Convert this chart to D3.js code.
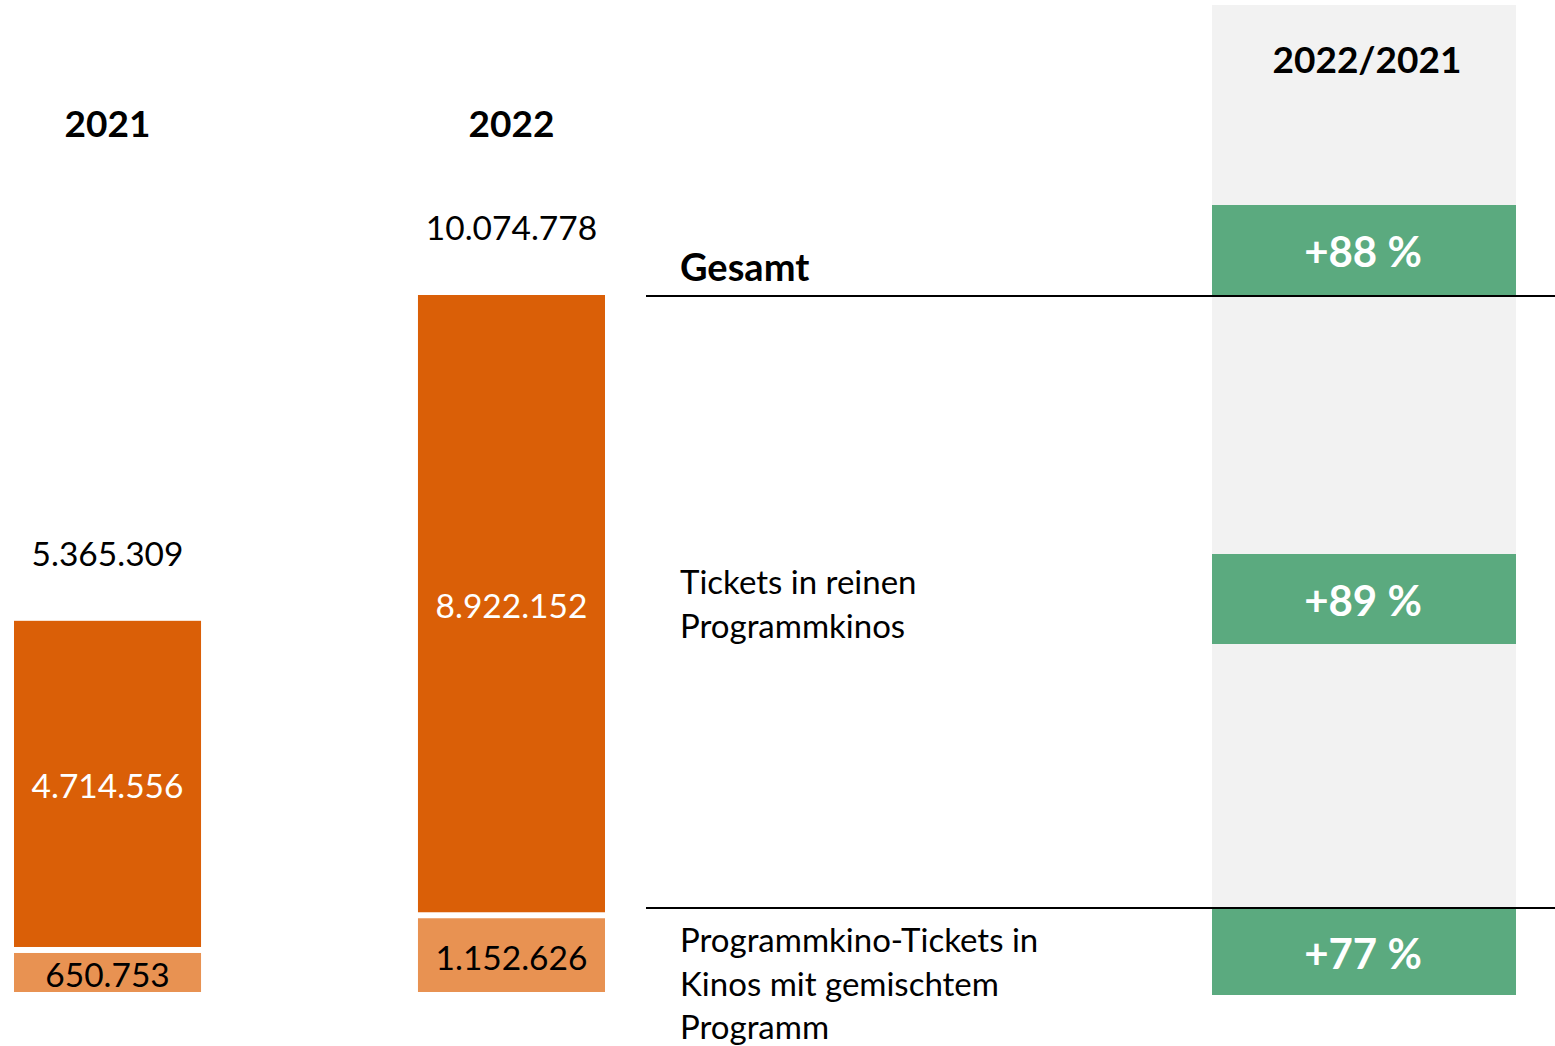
<!DOCTYPE html>
<html>
<head>
<meta charset="utf-8">
<script src="https://cdn.jsdelivr.net/npm/d3@7"></script>
<style>
  body { margin: 0; background: #fff; }
  svg text { font-family: Lato, "Noto Sans", sans-serif; }
</style>
</head>
<body>
<div id="chart"></div>
<script>
// data
const years = ["2021", "2022"];
const mixedTickets = [650753, 1152626];   // Programmkino-Tickets in Kinos mit gemischtem Programm
const pureTickets = [4714556, 8922152];   // Tickets in reinen Programmkinos
const rowLabels = [
    ["Gesamt"],
    ["Tickets in reinen", "Programmkinos"],
    ["Programmkino-Tickets in", "Kinos mit gemischtem", "Programm"]
];
const changes = ["+88 %", "+89 %", "+77 %"];
const changeHeader = "2022/2021";

const width = 1555, height = 1046;
const fmt = d3.formatLocale({decimal: ",", thousands: ".", grouping: [3], currency: ["", "€"]}).format(",d");

const svg = d3.select("#chart")
    .append("svg")
    .attr("width", width)
    .attr("height", height);

const totals = years.map((d, i) => pureTickets[i] + mixedTickets[i]);

const x = d3.scaleBand()
    .domain(years)
    .range([14, 605])
    .paddingInner(0.537);

const y = d3.scaleLinear()
    .domain([0, d3.max(totals)])
    .range([992, 295]);

// grey comparison column
svg.append("rect")
    .attr("x", 1212).attr("y", 5)
    .attr("width", 304).attr("height", 990)
    .attr("fill", "#f2f2f2");

const gap = 6;
const bars = svg.selectAll(".bar")
    .data(years)
    .join("g")
    .attr("class", "bar");

// lower segment
bars.append("rect")
    .attr("x", d => x(d))
    .attr("width", x.bandwidth())
    .attr("y", (d, i) => y(mixedTickets[i]) + gap)
    .attr("height", (d, i) => y(0) - y(mixedTickets[i]) - gap)
    .attr("fill", "#e89252");

// upper segment
bars.append("rect")
    .attr("x", d => x(d))
    .attr("width", x.bandwidth())
    .attr("y", (d, i) => y(totals[i]))
    .attr("height", (d, i) => y(mixedTickets[i]) - y(totals[i]))
    .attr("fill", "#da5f07");

bars.append("text")
    .attr("x", d => x(d) + x.bandwidth() / 2)
    .attr("y", (d, i) => (y(mixedTickets[i]) + gap + y(0)) / 2 + 15)
    .attr("text-anchor", "middle")
    .attr("font-size", 33.5)
    .attr("fill", "#000")
    .text((d, i) => fmt(mixedTickets[i]));

bars.append("text")
    .attr("x", d => x(d) + x.bandwidth() / 2)
    .attr("y", (d, i) => (y(totals[i]) + y(mixedTickets[i])) / 2 + 14)
    .attr("text-anchor", "middle")
    .attr("font-size", 33.5)
    .attr("fill", "#fff")
    .text((d, i) => fmt(pureTickets[i]));

// totals above bars
bars.append("text")
    .attr("x", d => x(d) + x.bandwidth() / 2)
    .attr("y", (d, i) => y(totals[i]) - 55)
    .attr("text-anchor", "middle")
    .attr("font-size", 33.5)
    .attr("fill", "#000")
    .text((d, i) => fmt(totals[i]));

// year headers
bars.append("text")
    .attr("x", d => x(d) + x.bandwidth() / 2)
    .attr("y", 137)
    .attr("text-anchor", "middle")
    .attr("font-size", 37)
    .attr("font-weight", "bold")
    .text(d => d);

// separator lines
[296, 908].forEach(ly => {
    svg.append("line")
        .attr("x1", 646).attr("x2", width)
        .attr("y1", ly).attr("y2", ly)
        .attr("stroke", "#000").attr("stroke-width", 2);
});

svg.append("text")
    .attr("x", 1367).attr("y", 73)
    .attr("text-anchor", "middle")
    .attr("font-size", 37)
    .attr("font-weight", "bold")
    .text(changeHeader);

// change boxes
const boxTop = [205, 554, 909];
const boxH = [90, 90, 86];
changes.forEach((c, i) => {
    svg.append("rect")
        .attr("x", 1212).attr("y", boxTop[i])
        .attr("width", 304).attr("height", boxH[i])
        .attr("fill", "#5baa7f");
    svg.append("text")
        .attr("x", 1363).attr("y", boxTop[i] + boxH[i] / 2 + 17)
        .attr("text-anchor", "middle")
        .attr("font-size", 42)
        .attr("font-weight", "bold")
        .attr("fill", "#fff")
        .text(c);
});

// row labels
const labelY = [281, 594, 952];
rowLabels.forEach((lines, i) => {
    const t = svg.append("text")
        .attr("x", 680).attr("y", labelY[i])
        .attr("font-size", i === 0 ? 38 : 33)
        .attr("font-weight", i === 0 ? "bold" : "normal");
    lines.forEach((l, j) => {
        t.append("tspan")
            .attr("x", 680)
            .attr("y", labelY[i] + j * 43.5)
            .text(l);
    });
});
</script>
</body>
</html>
